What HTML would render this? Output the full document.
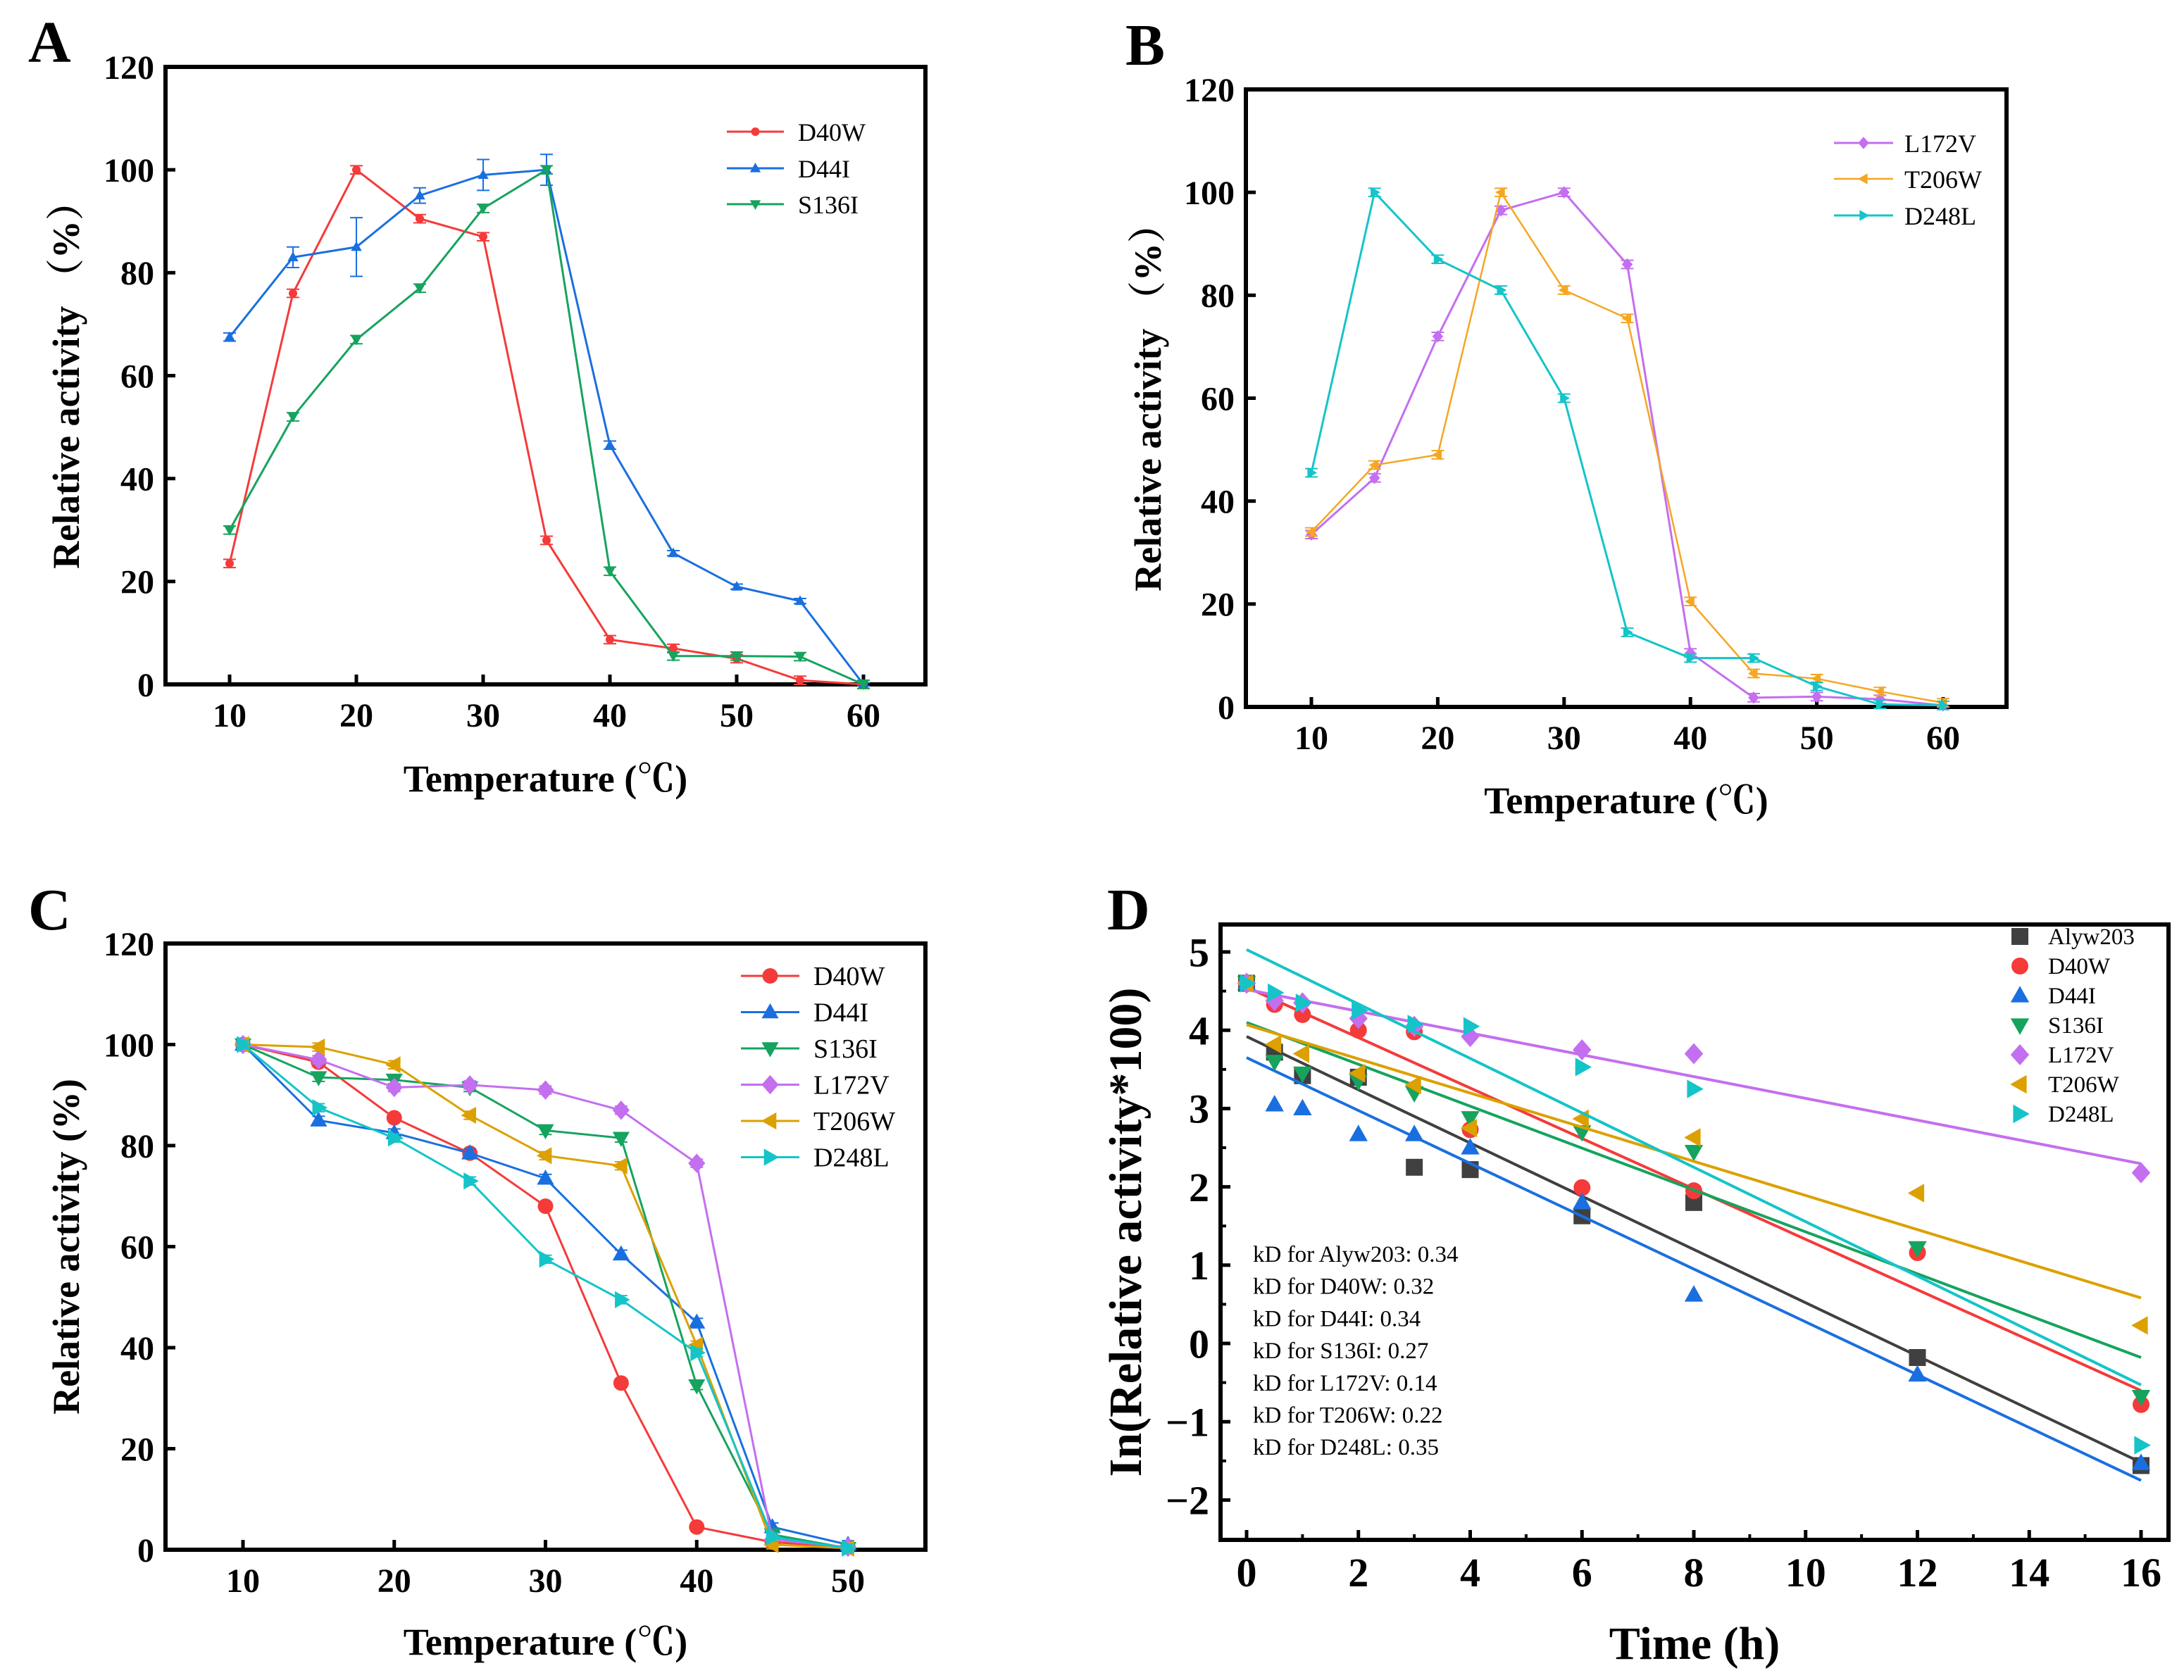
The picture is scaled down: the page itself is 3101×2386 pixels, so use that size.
<!DOCTYPE html>
<html><head><meta charset="utf-8"><style>
html,body{margin:0;padding:0;background:#fff;}
svg{display:block;font-family:"Liberation Serif","Noto Serif CJK SC",serif;}
</style></head><body>
<svg id="fig" width="3101" height="2386" viewBox="0 0 3101 2386" xmlns="http://www.w3.org/2000/svg"></svg>
<script>
// ---------- Panel A data ----------
const tempA = [10,15,20,25,30,35,40,45,50,55,60];
const aD40W = [23.5,76,100,90.5,87,28,8.7,7,5,0.8,0];
const aD44I = [67.5,83,85,95,99,100,46.5,25.5,19,16.2,0];
const aS136I = [30,52,67,77,92.5,100,22,5.5,5.5,5.4,0];
const aD44IErr = [0.8,2,5.7,1.5,3,3,0.8,0.5,0.5,0.5,0.3];
// ---------- Panel B data ----------
const tempB = [10,15,20,25,30,35,40,45,50,55,60];
const bL172V = [33.5,44.5,72,96.5,100,86,10.5,1.8,2,1.5,0.3];
const bT206W = [34,47,49,100,81,75.5,20.5,6.5,5.5,3,0.8];
const bD248L = [45.5,100,87,81,60,14.5,9.5,9.5,4,0.5,0.3];
// ---------- Panel C data ----------
const tempC = [10,15,20,25,30,35,40,45,50];
const cD40W = [100,96.5,85.5,78.5,68,33,4.5,1.5,0.5];
const cD44I = [100,85,82.5,78.5,73.5,58.5,45,4.5,1];
const cS136I = [100,93.5,93,91.5,83,81.5,32.5,3,0.3];
const cL172V = [100,97,91.5,92,91,87,76.5,2,0.5];
const cT206W = [100,99.5,96,86,78,76,40.5,1,0.3];
const cD248L = [100,87.5,81.5,73,57.5,49.5,39,2.5,0.3];
// ---------- Panel D data ----------
const timeD = [0,0.5,1,2,3,4,6,8,12,16];
const dAlyw203 = [4.6,3.72,3.42,3.4,2.25,2.22,1.63,1.8,-0.18,-1.56];
const dD40W = [4.6,4.33,4.2,4.0,3.98,2.73,1.99,1.95,1.16,-0.78];
const dD44I = [4.6,3.05,3.0,2.67,2.67,2.5,1.8,0.62,-0.4,-1.53];
const dS136I = [4.6,3.6,3.45,3.35,3.2,2.88,2.7,2.45,1.22,-0.68];
const dL172V = [4.6,4.38,4.35,4.15,4.05,3.92,3.75,3.7,null,2.18];
const dT206W = [4.6,3.82,3.7,3.45,3.3,2.75,2.87,2.63,1.92,0.23];
const dD248L = [4.6,4.48,4.35,4.25,4.08,4.05,3.53,3.25,null,-1.3];
const fitIntercepts = [3.92,4.55,3.65,4.1,4.52,4.07,5.03];
const fitSlopes = [-0.34,-0.322,-0.3375,-0.2675,-0.139,-0.218,-0.3475];
const kdLabels = ["kD for Alyw203: 0.34","kD for D40W: 0.32","kD for D44I: 0.34","kD for S136I: 0.27","kD for L172V: 0.14","kD for T206W: 0.22","kD for D248L: 0.35"];
const dNames = ["Alyw203","D40W","D44I","S136I","L172V","T206W","D248L"];

const NS="http://www.w3.org/2000/svg";
const svg=document.getElementById('fig');
function mk(tag,attrs,parent){const e=document.createElementNS(NS,tag);for(const k in attrs)e.setAttribute(k,attrs[k]);(parent||svg).appendChild(e);return e;}
function txt(s,attrs,parent){const e=mk('text',attrs,parent);e.textContent=s;return e;}

function marker(g,shape,cx,cy,r,color){
  let e;
  if(shape==='circle'){e=mk('circle',{cx:cx,cy:cy,r:r,fill:color},g);}
  else if(shape==='square'){e=mk('rect',{x:cx-r,y:cy-r,width:2*r,height:2*r,fill:color},g);}
  else {
    let p;
    if(shape==='up')p=[[0,-1.15],[1.1,0.8],[-1.1,0.8]];
    else if(shape==='down')p=[[0,1.15],[1.1,-0.8],[-1.1,-0.8]];
    else if(shape==='diamond')p=[[0,-1.25],[1.1,0],[0,1.25],[-1.1,0]];
    else if(shape==='left')p=[[-1.15,0],[0.8,-1.1],[0.8,1.1]];
    else p=[[1.15,0],[-0.8,-1.1],[-0.8,1.1]];
    e=mk('polygon',{points:p.map(q=>(cx+q[0]*r)+','+(cy+q[1]*r)).join(' '),fill:color},g);
  }
  return e;
}

function axes(cfg){
  const g=mk('g',{});
  
  
  const {L,R,T,B}=cfg;
  const fs=cfg.tickFont||48;
  const sx=v=>cfg.x0px+(v-cfg.x0)*(cfg.x1px-cfg.x0px)/(cfg.x1-cfg.x0);
  const sy=v=>cfg.y0px+(v-cfg.y0)*(cfg.y1px-cfg.y0px)/(cfg.y1-cfg.y0);
  mk('rect',{x:L,y:T,width:R-L,height:B-T,fill:'none',stroke:'#000','stroke-width':6},g);
  cfg.xticks.forEach(v=>{
    const x=sx(v);
    mk('line',{x1:x,y1:B,x2:x,y2:B-14,stroke:'#000','stroke-width':5},g);
    const t=txt(String(v),{x:x,y:B+(cfg.xlabOff||60),'text-anchor':'middle','font-size':fs,'font-weight':'bold'},g);
    
  });
  (cfg.xminor||[]).forEach(v=>{const x=sx(v);mk('line',{x1:x,y1:B,x2:x,y2:B-8,stroke:'#000','stroke-width':4},g);});
  cfg.yticks.forEach(v=>{
    const y=sy(v);
    mk('line',{x1:L,y1:y,x2:L+14,y2:y,stroke:'#000','stroke-width':5},g);
    const t=txt(v<0?'\u2212'+Math.abs(v):String(v),{x:L-16,y:y+fs*0.35,'text-anchor':'end','font-size':fs,'font-weight':'bold'},g);
    
  });
  (cfg.yminor||[]).forEach(v=>{const y=sy(v);mk('line',{x1:L,y1:y,x2:L+8,y2:y,stroke:'#000','stroke-width':4},g);});
  const xt=txt(cfg.xtitle,{x:(L+R)/2,y:cfg.xtitleY,'text-anchor':'middle','font-size':cfg.titleFont||54,'font-weight':'bold'},g);
  
  const yt=txt(cfg.ytitle,{x:0,y:0,'text-anchor':'middle','font-size':cfg.ytitleFont||54,'font-weight':'bold',transform:`translate(${cfg.ytitleX},${(T+B)/2}) rotate(-90)`},g);
  
  const pl=txt(cfg.letter,{x:cfg.letterX,y:cfg.letterY,'font-size':84,'font-weight':'bold'},g);
  
  return {sx,sy};
}

function lineSeries(ax,name,xs,ys,color,shape,r,sw,err){
  const g=mk('g',{});
  
  
  const pts=[];xs.forEach((x,i)=>{if(ys[i]!==null)pts.push([ax.sx(x),ax.sy(ys[i])]);});
  mk('polyline',{points:pts.map(p=>p.join(',')).join(' '),fill:'none',stroke:color,'stroke-width':sw},g);
  xs.forEach((x,i)=>{
    if(ys[i]===null)return;
    const e=err?err[i]:0.8;
    const cx=ax.sx(x),y1=ax.sy(ys[i]+e),y2=ax.sy(ys[i]-e);
    mk('path',{d:`M${cx},${y1}V${y2}M${cx-9},${y1}H${cx+9}M${cx-9},${y2}H${cx+9}`,stroke:color,'stroke-width':2,fill:'none'},g);
    marker(g,shape,cx,ax.sy(ys[i]),r,color);
  });
}

function legendLine(name,x1,x2,tx,y,color,shape,r,sw,fs,pname){
  const g=mk('g',{});
  
  
  mk('line',{x1:x1,y1:y,x2:x2,y2:y,stroke:color,'stroke-width':sw},g);
  marker(g,shape,(x1+x2)/2,y,r,color);
  txt(name,{x:tx,y:y+13,'font-size':fs},g);
}

const RED='#f53a3a',BLUE='#1a6fe0',GREEN='#16a35e',VIOLET='#c46ef0',ORANGE='#f5a623',CYAN='#14c4c8',GOLD='#dca000',GREY='#404040';

// ---------- A ----------
const axA=axes({name:'panel-a',L:235,R:1314,T:95,B:972,x0:10,x1:60,x0px:326,x1px:1226,y0:0,y1:120,y0px:972,y1px:95,
  xticks:[10,20,30,40,50,60],yticks:[0,20,40,60,80,100,120],xtitle:'Temperature (\u2103)',xtitleY:1124,
  ytitle:'Relative activity （%）',ytitleX:112,letter:'A',letterX:40,letterY:88});
lineSeries(axA,'series-a-d40w',tempA,aD40W,RED,'circle',6,3);
lineSeries(axA,'series-a-d44i',tempA,aD44I,BLUE,'up',7,3,aD44IErr);
lineSeries(axA,'series-a-s136i',tempA,aS136I,GREEN,'down',7,3);
legendLine('D40W',1032,1113,1133,187,RED,'circle',6,3,36,'a-d40w');
legendLine('D44I',1032,1113,1133,239,BLUE,'up',7,3,36,'a-d44i');
legendLine('S136I',1032,1113,1133,290,GREEN,'down',7,3,36,'a-s136i');

// ---------- B ----------
const axB=axes({name:'panel-b',L:1769,R:2849,T:127,B:1004,x0:10,x1:60,x0px:1862,x1px:2759,y0:0,y1:120,y0px:1004,y1px:127,
  xticks:[10,20,30,40,50,60],yticks:[0,20,40,60,80,100,120],xtitle:'Temperature (\u2103)',xtitleY:1155,
  ytitle:'Relative activity （%）',ytitleX:1648,letter:'B',letterX:1598,letterY:92});
lineSeries(axB,'series-b-l172v',tempB,bL172V,VIOLET,'diamond',7,3);
lineSeries(axB,'series-b-t206w',tempB,bT206W,ORANGE,'left',7,2.5);
lineSeries(axB,'series-b-d248l',tempB,bD248L,CYAN,'right',7,3);
legendLine('L172V',2604,2688,2704,203,VIOLET,'diamond',7,3,36,'b-l172v');
legendLine('T206W',2604,2688,2704,254,ORANGE,'left',7,2.5,36,'b-t206w');
legendLine('D248L',2604,2688,2704,306,CYAN,'right',7,3,36,'b-d248l');

// ---------- C ----------
const axC=axes({name:'panel-c',L:235,R:1314,T:1340,B:2201,x0:10,x1:50,x0px:345,x1px:1204,y0:0,y1:120,y0px:2201,y1px:1340,
  xticks:[10,20,30,40,50],yticks:[0,20,40,60,80,100,120],xtitle:'Temperature (\u2103)',xtitleY:2350,
  ytitle:'Relative activity (%)',ytitleX:112,letter:'C',letterX:40,letterY:1320});
lineSeries(axC,'series-c-d40w',tempC,cD40W,RED,'circle',11,3);
lineSeries(axC,'series-c-d44i',tempC,cD44I,BLUE,'up',11,3);
lineSeries(axC,'series-c-s136i',tempC,cS136I,GREEN,'down',11,3);
lineSeries(axC,'series-c-l172v',tempC,cL172V,VIOLET,'diamond',11,3);
lineSeries(axC,'series-c-t206w',tempC,cT206W,GOLD,'left',11,3);
lineSeries(axC,'series-c-d248l',tempC,cD248L,CYAN,'right',11,3);
const cNames=['D40W','D44I','S136I','L172V','T206W','D248L'];
const cCols=[RED,BLUE,GREEN,VIOLET,GOLD,CYAN];
const cShapes=['circle','up','down','diamond','left','right'];
cNames.forEach((n,i)=>legendLine(n,1052,1135,1155,1386+i*51.5,cCols[i],cShapes[i],11,3,38,'c-'+n.toLowerCase()));

// ---------- D ----------
const axD=axes({name:'panel-d',L:1733,R:3079,T:1313,B:2187,x0:0,x1:16,x0px:1770,x1px:3040,y0:0,y1:5,y0px:1908,y1px:1352,
  xticks:[0,2,4,6,8,10,12,14,16],xminor:[1,3,5,7,9,11,13,15],yticks:[-2,-1,0,1,2,3,4,5],yminor:[-1.5,-0.5,0.5,1.5,2.5,3.5,4.5],
  tickFont:58,titleFont:66,ytitleFont:66,xtitle:'Time (h)',xtitleY:2356,xlabOff:66,
  ytitle:'In(Relative activity*100)',ytitleX:1620,letter:'D',letterX:1572,letterY:1320});
const dSeries=[dAlyw203,dD40W,dD44I,dS136I,dL172V,dT206W,dD248L];
const dCols=[GREY,RED,BLUE,GREEN,VIOLET,GOLD,CYAN];
const dShapes=['square','circle','up','down','diamond','left','right'];
dSeries.forEach((ys,k)=>{
  const g=mk('g',{});
  
  
  mk('line',{x1:axD.sx(0),y1:axD.sy(fitIntercepts[k]),x2:axD.sx(16),y2:axD.sy(fitIntercepts[k]+fitSlopes[k]*16),stroke:dCols[k],'stroke-width':4},g);
  timeD.forEach((t,i)=>{if(ys[i]!==null)marker(g,dShapes[k],axD.sx(t),axD.sy(ys[i]),12,dCols[k]);});
});
dNames.forEach((n,i)=>{
  const g=mk('g',{});
  
  
  const y=1330+i*42;
  marker(g,dShapes[i],2868,y,12,dCols[i]);
  txt(n,{x:2908,y:y+11,'font-size':33},g);
});
kdLabels.forEach((s,i)=>{
  const t=txt(s,{x:1779,y:1792+i*45.7,'font-size':33});
  
  
});
</script>
</body></html>
